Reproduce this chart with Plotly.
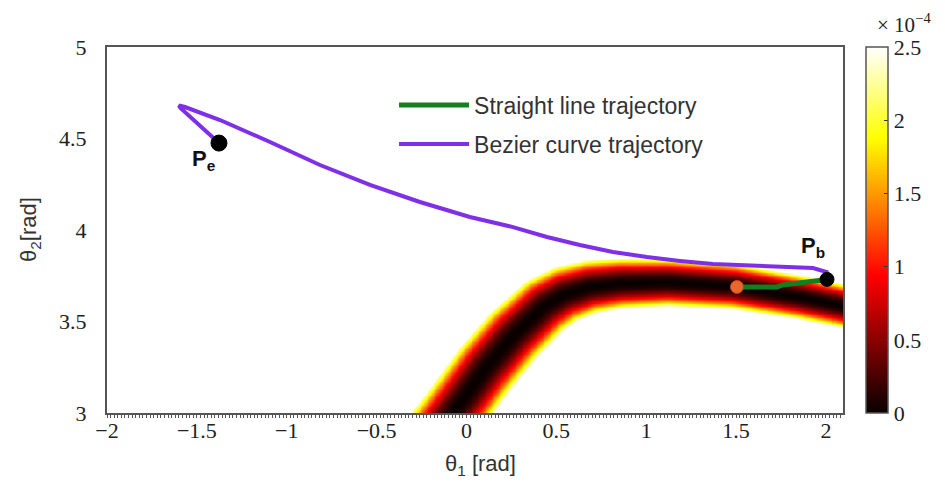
import numpy as np
import plotly.graph_objects as go

# ---- data ----
# Bezier curve trajectory (theta1, theta2) from P_b to P_e
bez_t1 = [2.006, 2.004, 1.928, 1.744, 1.560, 1.371, 1.188, 1.004, 0.815, 0.631, 0.448,
          0.259, 0.019, -0.259, -0.537, -0.815, -1.093, -1.371, -1.566, -1.600, -1.590, -1.377]
bez_t2 = [3.730, 3.770, 3.792, 3.798, 3.803, 3.814, 3.831, 3.852, 3.880, 3.918, 3.962,
          4.016, 4.071, 4.153, 4.246, 4.355, 4.481, 4.601, 4.672, 4.680, 4.665, 4.475]
# Straight line trajectory
sl_t1 = [1.505, 1.727, 1.760, 1.967, 2.006]
sl_t2 = [3.689, 3.689, 3.700, 3.727, 3.730]
# Key points
pe = (-1.377, 4.475)
pb = (2.006, 3.730)
p_orange = (1.505, 3.689)
# Ridge (valley) of the background field: centreline and half-width
ridge_t1 = [-0.259, -0.075, 0.103, 0.259, 0.430, 0.540, 0.680, 0.854, 1.115, 1.483, 1.855, 2.134]
ridge_t2 = [2.770, 3.005, 3.246, 3.426, 3.585, 3.648, 3.690, 3.710, 3.716, 3.694, 3.634, 3.579]
ridge_hw = [0.185, 0.185, 0.184, 0.180, 0.172, 0.162, 0.150, 0.140, 0.132, 0.127, 0.122, 0.120]
cb_ticks = [0, 0.5, 1, 1.5, 2, 2.5]
x_ticks = [-2, -1.5, -1, -0.5, 0, 0.5, 1, 1.5, 2]
y_ticks = [3, 3.5, 4, 4.5, 5]

# ---- background field (units of 1e-4) ----
gx = np.linspace(-2, 2.095, 420)
gy = np.linspace(3, 5, 260)
X, Y = np.meshgrid(gx, gy)
sx, sy = 179.75, 183.0  # px per unit, to measure distance isotropically
best_d = np.full(X.shape, np.inf)
best_h = np.ones(X.shape)
for i in range(len(ridge_t1) - 1):
    ax_, ay_ = ridge_t1[i] * sx, ridge_t2[i] * sy
    bx_, by_ = ridge_t1[i + 1] * sx, ridge_t2[i + 1] * sy
    px, py = X * sx, Y * sy
    dx, dy = bx_ - ax_, by_ - ay_
    t = np.clip(((px - ax_) * dx + (py - ay_) * dy) / (dx * dx + dy * dy), 0, 1)
    d = np.hypot(px - (ax_ + t * dx), py - (ay_ + t * dy))
    h = (ridge_hw[i] + t * (ridge_hw[i + 1] - ridge_hw[i])) * sy
    m = d < best_d
    best_d = np.where(m, d, best_d)
    best_h = np.where(m, h, best_h)
Z = np.clip(2.5 * (best_d / best_h) ** 2.0, 0, 2.6)

hot = [[0, 'rgb(8,0,0)'], [0.375, 'rgb(255,0,0)'], [0.75, 'rgb(255,255,0)'], [1, 'rgb(255,255,255)']]

fig = go.Figure()
fig.add_trace(go.Heatmap(
    x=gx, y=gy, z=Z, zmin=0, zmax=2.5, colorscale=hot, showlegend=False,
    hoverinfo='skip', zsmooth='best',
    colorbar=dict(x=1.031, xanchor='left', xref='paper', xpad=0, ypad=0,
                  y=0.5, yanchor='middle', len=1.0,
                  lenmode='fraction', thickness=22, outlinecolor='#555', outlinewidth=1.5,
                  tickvals=cb_ticks, ticktext=[('%g' % v) for v in cb_ticks],
                  ticks='inside', ticklen=4, tickcolor='#333',
                  tickfont=dict(family='Liberation Serif', size=22, color='#222'))))
fig.add_trace(go.Scatter(x=sl_t1, y=sl_t2, mode='lines', name='Straight line trajectory',
                         legendgroup='a', line=dict(color='#13801f', width=5)))
fig.add_trace(go.Scatter(x=bez_t1, y=bez_t2, mode='lines', name='Bezier curve trajectory',
                         legendgroup='b', line=dict(color='#7f30e6', width=4)))
fig.add_trace(go.Scatter(x=[pe[0], pb[0]], y=[pe[1], pb[1]], mode='markers', showlegend=False,
                         opacity=1,
                         marker=dict(color='#000000', size=[16, 14], opacity=1,
                                     line=dict(color='#000000', width=1))))
fig.add_trace(go.Scatter(x=[p_orange[0]], y=[p_orange[1]], mode='markers', showlegend=False,
                         marker=dict(color='#e8672a', size=13, line=dict(color='#c8401a', width=1))))

fig.add_annotation(x=-1.46, y=4.385, text='<b>P<sub>e</sub></b>', showarrow=False,
                   xanchor='center', yanchor='middle',
                   font=dict(family='Liberation Sans', size=22, color='#111'))
fig.add_annotation(x=1.93, y=3.905, text='<b>P<sub>b</sub></b>', showarrow=False,
                   xanchor='center', yanchor='middle',
                   font=dict(family='Liberation Sans', size=22, color='#111'))
fig.add_annotation(xref='paper', yref='paper', x=1.083, y=1.064, text='× 10<sup>−4</sup>',
                   xanchor='center', yanchor='middle',
                   showarrow=False, font=dict(family='Liberation Serif', size=21, color='#222'))
fig.add_annotation(xref='paper', yref='paper', x=0.507, y=-0.142, text='θ<sub>1</sub> [rad]',
                   xanchor='center', yanchor='middle',
                   showarrow=False, font=dict(family='Liberation Sans', size=22, color='#333'))
fig.add_annotation(xref='paper', yref='paper', x=-0.1046, y=0.5, text='θ<sub>2</sub>[rad]',
                   xanchor='center', yanchor='middle',
                   textangle=-90, showarrow=False,
                   font=dict(family='Liberation Sans', size=22, color='#333'))

# page body has an 8px margin, so the figure is sized/margined to compensate
fig.update_layout(
    width=937, height=478, margin=dict(l=99, r=102, t=39, b=73, autoexpand=False),
    paper_bgcolor='white', plot_bgcolor='white',
    showlegend=True,
    legend=dict(x=0.39, y=0.9, xanchor='left', yanchor='top', bgcolor='rgba(0,0,0,0)',
                font=dict(family='Liberation Sans', size=23, color='#333'),
                itemwidth=70, tracegroupgap=6, traceorder='grouped'),
    xaxis=dict(range=[-2, 2.095], tickvals=x_ticks, ticktext=[('%g' % v).replace('-', '−') for v in x_ticks],
               showgrid=False, zeroline=False, showline=True, mirror=True, linecolor='#555',
               linewidth=2, ticks='', ticklabelstandoff=-3, automargin=False,
               tickfont=dict(family='Liberation Serif', size=22, color='#222'),
               minor=dict(ticks='outside', dtick=0.02, ticklen=3, tickcolor='#555', showgrid=False)),
    yaxis=dict(range=[3, 5], tickvals=y_ticks, ticktext=[('%g' % v) for v in y_ticks],
               showgrid=False, zeroline=False, showline=True, mirror=True, linecolor='#555',
               linewidth=2, ticks='', ticklabelstandoff=14, automargin=False,
               tickfont=dict(family='Liberation Serif', size=22, color='#222')),
)
fig.write_html('out.html')
